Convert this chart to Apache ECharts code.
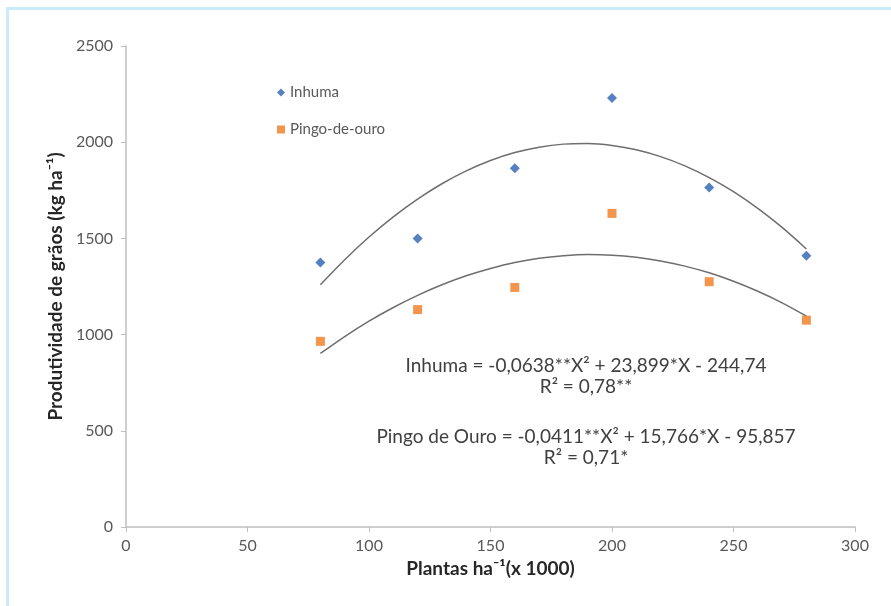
<!DOCTYPE html>
<html><head><meta charset="utf-8">
<script src="https://cdn.jsdelivr.net/npm/echarts@6/dist/echarts.min.js"></script>
<style>html,body{margin:0;padding:0;background:#fff}#c{width:891px;height:606px}</style>
</head><body><div id="c"></div>
<script>
const xPlants = [80, 120, 160, 200, 240, 280];
const inhuma = [1375, 1500, 1865, 2230, 1765, 1410];
const pingo = [965, 1130, 1245, 1630, 1275, 1075];
const trendX = [80, 90, 100, 110, 120, 130, 140, 150, 160, 170, 180, 190, 200, 210, 220, 230, 240, 250, 260, 270, 280];
const inhumaTrend = [1259, 1389, 1507, 1612, 1704, 1784, 1851, 1905, 1946, 1974, 1990, 1993, 1983, 1961, 1925, 1877, 1816, 1743, 1656, 1557, 1445];
const pingoTrend = [902, 990, 1070, 1141, 1204, 1259, 1306, 1344, 1375, 1397, 1410, 1416, 1413, 1402, 1383, 1356, 1321, 1277, 1225, 1165, 1096];
const xTicks = [0, 50, 100, 150, 200, 250, 300];
const yTicks = [0, 500, 1000, 1500, 2000, 2500];
const equations = [
  'Inhuma = -0,0638**X² + 23,899*X - 244,74',
  'R² = 0,78**',
  'Pingo de Ouro = -0,0411**X² + 15,766*X - 95,857',
  'R² = 0,71*'
];
const F = 'Lato, "Open Sans", sans-serif';
const chart = echarts.init(document.getElementById('c'));
const pair = (xs, ys) => xs.map((x, i) => [x, ys[i]]);
const eqY = [366, 387, 437, 458];
chart.setOption({
  animation: false,
  grid: {left: 126, right: 36, top: 46, bottom: 79},
  legend: {
    orient: 'vertical', left: 272, top: 80, itemGap: 22, itemWidth: 8, itemHeight: 8,
    textStyle: {fontFamily: F, fontSize: 15, color: '#595959'},
    data: [{name: 'Inhuma', icon: 'diamond'}, {name: 'Pingo-de-ouro', icon: 'rect'}]
  },
  xAxis: {
    type: 'value', min: xTicks[0], max: xTicks[xTicks.length - 1], interval: 50,
    name: 'Plantas ha⁻¹(x 1000)', nameLocation: 'middle', nameGap: 30,
    nameTextStyle: {fontFamily: F, fontSize: 19, fontWeight: 'bold', color: '#262626'},
    axisLine: {show: true, lineStyle: {color: '#bfbfbf', width: 1.5}},
    axisTick: {show: true, length: 5, lineStyle: {color: '#bfbfbf'}},
    axisLabel: {fontFamily: F, fontSize: 16, color: '#595959', margin: 11},
    splitLine: {show: false}
  },
  yAxis: {
    type: 'value', min: yTicks[0], max: yTicks[yTicks.length - 1], interval: 500,
    name: 'Produtividade de grãos (kg ha⁻¹)', nameLocation: 'middle', nameGap: 55,
    nameTextStyle: {fontFamily: F, fontSize: 19, fontWeight: 'bold', color: '#262626'},
    axisLine: {show: true, lineStyle: {color: '#bfbfbf', width: 1.5}},
    axisTick: {show: true, length: 5, lineStyle: {color: '#bfbfbf'}},
    axisLabel: {fontFamily: F, fontSize: 16, color: '#595959', margin: 13, formatter: v => String(v)},
    splitLine: {show: false}
  },
  series: [
    {name: 'Inhuma', type: 'scatter', symbol: 'diamond', symbolSize: 10,
     itemStyle: {color: '#2a62b0'}, data: pair(xPlants, inhuma), z: 3},
    {name: 'Pingo-de-ouro', type: 'scatter', symbol: 'rect', symbolSize: 9,
     itemStyle: {color: '#f07b20'}, data: pair(xPlants, pingo), z: 3},
    {name: 'trend1', type: 'line', smooth: 0.3, showSymbol: false, symbol: 'none',
     lineStyle: {color: '#6e6e6e', width: 1.5}, data: pair(trendX, inhumaTrend), z: 2},
    {name: 'trend2', type: 'line', smooth: 0.3, showSymbol: false, symbol: 'none',
     lineStyle: {color: '#6e6e6e', width: 1.5}, data: pair(trendX, pingoTrend), z: 2}
  ],
  graphic: [
    {type: 'rect', shape: {x: 6, y: 7, width: 885, height: 3}, style: {fill: '#c9ebfb'}},
    {type: 'rect', shape: {x: 6, y: 7, width: 3, height: 599}, style: {fill: '#c9ebfb'}}
  ].concat(equations.map((t, i) => ({
    type: 'text', x: 586, y: eqY[i],
    style: {text: t, fontFamily: F, fontSize: 19, fill: '#404040', align: 'center', verticalAlign: 'middle'}
  })))
});
</script></body></html>
